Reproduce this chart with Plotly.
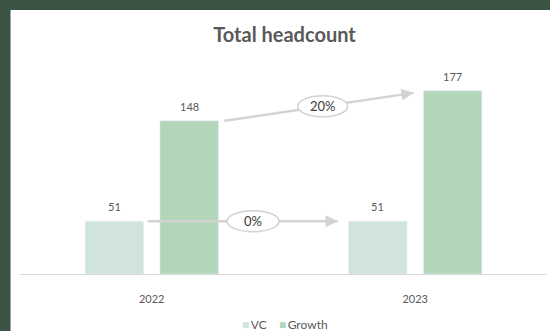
import plotly.graph_objects as go

# Headcount by fund type
years = ["2022", "2023"]
series_names = ["VC", "Growth"]
vc = [51, 51]
growth = [148, 177]

FONT = "Lato"
GREY_TEXT = "#595959"
ARROW = "#d3d3d3"
VC_COLOR = "#d0e3dc"
GROWTH_COLOR = "#b3d5b9"

fig = go.Figure()
fig.add_trace(go.Bar(name=series_names[0], x=years, y=vc, marker_color=VC_COLOR))
fig.add_trace(go.Bar(name=series_names[1], x=years, y=growth, marker_color=GROWTH_COLOR))

W, H = 550, 331
ml, mr, mt, mb = 19.5, 2.5, 67, 57
plot_w = W - ml - mr
plot_h = H - mt - mb
unit = plot_w / len(years)          # pixels per category
bargap, bargroupgap = 0.432, 0.22
slot = (1 - bargap) / 2             # per-series slot in category units
offset = slot / 2                   # centre offset of each series
half_bar = slot * (1 - bargroupgap) / 2
px = 1 / unit                       # one pixel in category units

# value labels above each bar
for i, y in enumerate(years):
    for val, sign in ((vc[i], -1), (growth[i], 1)):
        fig.add_annotation(x=i + sign * offset, y=val, text=str(val), showarrow=False,
                           yanchor="bottom", yshift=6,
                           font=dict(family=FONT, size=11, color=GREY_TEXT))


def change_arrow(x0, y0, x1, y1, label, frac, ew, eh):
    # shaft
    fig.add_shape(type="line", x0=x0, y0=y0, x1=x1, y1=y1, xref="x", yref="y",
                  line=dict(color=ARROW, width=2.5), layer="above")
    # head
    dxp = (x1 - x0) * unit
    dyp = (y1 - y0) * plot_h / 200
    L = (dxp ** 2 + dyp ** 2) ** 0.5
    fig.add_annotation(x=x1, y=y1, ax=-10 * dxp / L, ay=10 * dyp / L, text="",
                       showarrow=True, arrowhead=2, arrowsize=1.1, arrowwidth=2.2,
                       arrowcolor=ARROW, standoff=0)
    # labelled ellipse
    cx = x0 + (x1 - x0) * frac
    cy = y0 + (y1 - y0) * frac
    fig.add_shape(type="circle", xref="x", yref="y", xsizemode="pixel", ysizemode="pixel",
                  xanchor=cx, yanchor=cy, x0=-ew / 2, x1=ew / 2, y0=-eh / 2, y1=eh / 2,
                  fillcolor="white", line=dict(color=ARROW, width=1.5), layer="above")
    fig.add_annotation(x=cx, y=cy, text=label, showarrow=False,
                       font=dict(family=FONT, size=13, color="#3a3a3a"))


g_pct = round((growth[1] - growth[0]) / growth[0] * 100)
v_pct = round((vc[1] - vc[0]) / vc[0] * 100)

change_arrow(0 + offset + half_bar + 6 * px, growth[0],
             1 + offset - half_bar - 10 * px, growth[1] - 2,
             f"{g_pct}%", 0.52, 50, 21)
change_arrow(0 - offset + half_bar + 4 * px, vc[0],
             1 - offset - half_bar - 11 * px, vc[1],
             f"{v_pct}%", 0.555, 52, 21)

# compact legend row under the axis
legend_text = (f"<span style='color:{VC_COLOR}'>■</span>&#8201;{series_names[0]}"
               f"&nbsp;&nbsp;&nbsp;&nbsp;<span style='color:{GROWTH_COLOR}'>■</span>&#8201;{series_names[1]}")
fig.add_annotation(xref="paper", yref="paper", x=(285 - ml) / plot_w, y=-50 / plot_h,
                   xanchor="center", yanchor="middle", showarrow=False, text=legend_text,
                   font=dict(family=FONT, size=12, color=GREY_TEXT))

# white card on the dark backdrop
fig.add_shape(type="rect", xref="paper", yref="paper",
              x0=(10 - ml) / plot_w, x1=(W + 5 - ml) / plot_w,
              y0=-(mb + 5) / plot_h, y1=(H - mb - 10) / plot_h,
              fillcolor="white", line=dict(width=0), layer="below")

fig.update_layout(
    width=W, height=H,
    margin=dict(l=ml, r=mr, t=mt, b=mb, pad=0, autoexpand=False),
    paper_bgcolor="#3a5343",
    plot_bgcolor="rgba(0,0,0,0)",
    barmode="group", bargap=bargap, bargroupgap=bargroupgap,
    title=dict(text="<b>Total headcount</b>", x=284.5 / W, xanchor="center",
               y=1 - 35 / H, yanchor="middle",
               font=dict(family=FONT, size=20, color=GREY_TEXT)),
    xaxis=dict(showline=True, linecolor="#d9d9d9", linewidth=1, ticks="",
               showgrid=False, zeroline=False, ticklabelstandoff=15,
               tickfont=dict(family=FONT, size=11, color=GREY_TEXT)),
    yaxis=dict(range=[0, 200], visible=False, showgrid=False, zeroline=False),
    showlegend=False,
)

fig.write_html("out.html")
